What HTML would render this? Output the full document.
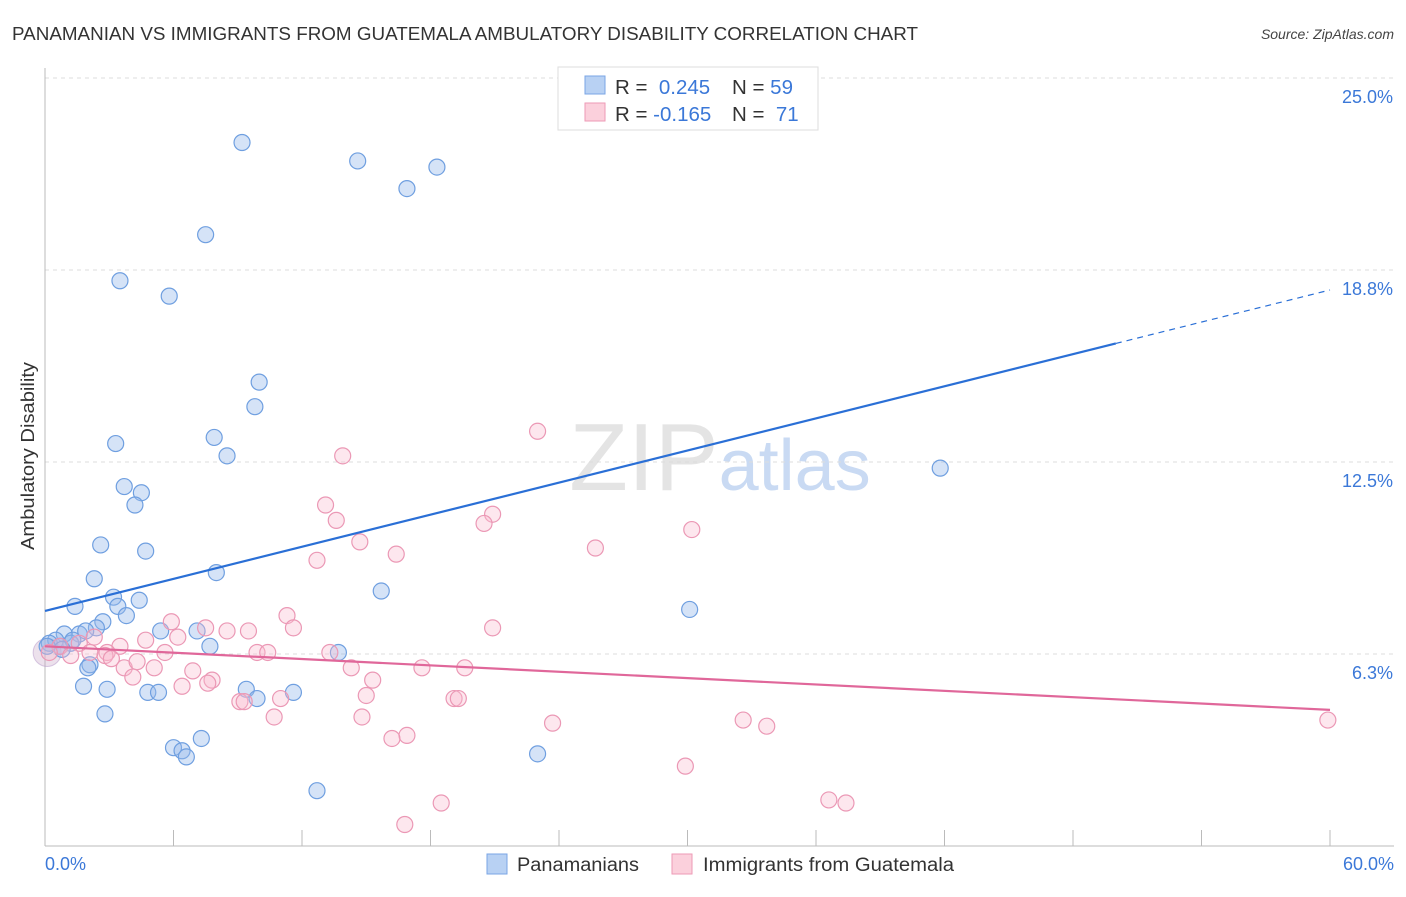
<!DOCTYPE html>
<html><head><meta charset="utf-8"><style>
body{margin:0;background:#fff;font-family:"Liberation Sans",sans-serif;}
svg text{font-family:"Liberation Sans",sans-serif;}
</style></head><body>
<svg id="chart" width="1406" height="892" xmlns="http://www.w3.org/2000/svg">
<text x="12" y="40" font-size="18" fill="#333" textLength="906" lengthAdjust="spacingAndGlyphs">PANAMANIAN VS IMMIGRANTS FROM GUATEMALA AMBULATORY DISABILITY CORRELATION CHART</text>
<text x="1394" y="39" font-size="14" fill="#444" text-anchor="end" font-style="italic">Source: ZipAtlas.com</text>
<text x="720" y="490" font-size="96" fill="#e4e4e4" text-anchor="middle" font-family="Liberation Serif">ZIP<tspan fill="#c9daf3" font-family="Liberation Sans" font-size="72">atlas</tspan></text>
<g id="grid"></g>
<g id="axes"></g>
<g id="points"></g>
<g id="trends"></g>
<text transform="translate(34,456) rotate(-90)" font-size="18" fill="#333" text-anchor="middle" textLength="188" lengthAdjust="spacingAndGlyphs">Ambulatory Disability</text>
<g>
<rect x="558" y="67" width="260" height="63" fill="#fff" stroke="#ddd"/>
<rect x="585" y="76" width="20" height="18" fill="#b8d1f3" stroke="#7aa5e4"/>
<rect x="585" y="103" width="20" height="18" fill="#fbd0dc" stroke="#ee9ab6"/>
<text x="615" y="94" font-size="20.5" fill="#333">R = <tspan fill="#3b78d8">&#160;0.245</tspan><tspan x="732">N = </tspan><tspan fill="#3b78d8">59</tspan></text>
<text x="615" y="121" font-size="20.5" fill="#333">R = <tspan fill="#3b78d8">-0.165</tspan><tspan x="732">N = </tspan><tspan fill="#3b78d8">&#160;71</tspan></text>
</g>
<g>
<rect x="487" y="854" width="20" height="20" fill="#b8d1f3" stroke="#7aa5e4"/>
<text x="517" y="871" font-size="19" fill="#333" textLength="122" lengthAdjust="spacingAndGlyphs">Panamanians</text>
<rect x="672" y="854" width="20" height="20" fill="#fbd0dc" stroke="#ee9ab6"/>
<text x="703" y="871" font-size="19" fill="#333" textLength="251" lengthAdjust="spacingAndGlyphs">Immigrants from Guatemala</text>
</g>
</svg>
<script>
const xTicks=[0,6,12,18,24,30,36,42,48,54,60];
const yTicks=[6.25,12.5,18.75,25];
const yTickLabels=["6.3%","12.5%","18.8%","25.0%"];
const blueX=[9.2,14.6,18.3,16.9,7.5,3.5,5.8,10.0,9.8,3.3,7.9,8.5,41.8,3.7,4.5,4.2,2.6,4.7,2.3,8.0,15.7,3.2,4.4,3.4,1.4,3.8,30.1,2.7,2.4,5.4,7.1,1.6,0.9,0.5,0.2,1.2,0.7,7.7,13.7,2.1,1.8,2.9,4.8,5.3,9.4,11.6,9.9,2.8,7.3,6.0,6.4,6.6,23.0,12.7,1.3,1.9,0.8,0.1,2.0];
const blueY=[22.9,22.3,22.1,21.4,19.9,18.4,17.9,15.1,14.3,13.1,13.3,12.7,12.3,11.7,11.5,11.1,9.8,9.6,8.7,8.9,8.3,8.1,8.0,7.8,7.8,7.5,7.7,7.3,7.1,7.0,7.0,6.9,6.9,6.7,6.6,6.6,6.5,6.5,6.3,5.9,5.2,5.1,5.0,5.0,5.1,5.0,4.8,4.3,3.5,3.2,3.1,2.9,3.0,1.8,6.7,7.0,6.4,6.5,5.8];
const pinkX=[23.0,13.9,13.1,13.6,20.9,20.5,30.2,14.7,25.7,16.4,12.7,5.9,11.3,7.5,8.5,9.5,11.6,20.9,6.2,4.7,3.5,1.6,2.9,13.3,9.9,10.4,5.6,2.8,0.7,1.2,2.1,3.7,5.1,6.9,4.3,3.1,4.1,14.3,17.6,19.6,15.3,6.4,7.8,7.6,15.0,11.0,9.1,9.3,19.1,19.3,10.7,14.8,23.7,32.6,33.7,16.9,16.2,29.9,18.5,16.8,36.6,37.4,59.9,0.2,2.3];
const pinkY=[13.5,12.7,11.1,10.6,10.8,10.5,10.3,9.9,9.7,9.5,9.3,7.3,7.5,7.1,7.0,7.0,7.1,7.1,6.8,6.7,6.5,6.6,6.3,6.3,6.3,6.3,6.3,6.2,6.5,6.2,6.3,5.8,5.8,5.7,6.0,6.1,5.5,5.8,5.8,5.8,5.4,5.2,5.4,5.3,4.9,4.8,4.7,4.7,4.8,4.8,4.2,4.2,4.0,4.1,3.9,3.6,3.5,2.6,1.4,0.7,1.5,1.4,4.1,6.3,6.8];
const blueTrend=[7.65,18.1];
const pinkTrend=[6.5,4.43];
const X=v=>45+v*(1285/60), Y=v=>78+(25-v)*30.72;
const NS="http://www.w3.org/2000/svg";
function mk(parent,tag,attrs){const e=document.createElementNS(NS,tag);for(const k in attrs)e.setAttribute(k,attrs[k]);document.getElementById(parent).appendChild(e);return e;}
yTicks.forEach((t,i)=>{
 const g=mk('grid','line',{x1:45,x2:1394,y1:Y(t),y2:Y(t),stroke:'#ddd','stroke-dasharray':'4,4'});
 
 
 const l=mk('axes','text',{x:1393,y:Y(t)+25,'font-size':18,fill:'#3b78d8','text-anchor':'end'});
 l.textContent=yTickLabels[i];
 
 
});
const ax=mk('axes','line',{x1:45,x2:1394,y1:846,y2:846,stroke:'#bbb'});


const ay=mk('axes','line',{x1:45,x2:45,y1:68,y2:846,stroke:'#bbb'});


xTicks.forEach(t=>{
 const k=mk('axes','line',{x1:X(t),x2:X(t),y1:830,y2:846,stroke:'#bbb'});
 
 
});
const xl0=mk('axes','text',{x:45,y:870,'font-size':18,fill:'#3b78d8'});xl0.textContent='0.0%';


const xl1=mk('axes','text',{x:1394,y:870,'font-size':18,fill:'#3b78d8','text-anchor':'end'});xl1.textContent='60.0%';


const big=mk('points','circle',{cx:X(0.1),cy:Y(6.3),r:14,fill:'rgba(200,170,200,0.35)',stroke:'rgba(180,150,200,0.5)'});


blueX.forEach((x,i)=>{
 const c=mk('points','circle',{cx:X(x),cy:Y(blueY[i]),r:8,fill:'rgba(150,185,235,0.4)',stroke:'#6f9fe0','stroke-width':1.2});
 
 
});
pinkX.forEach((x,i)=>{
 const c=mk('points','circle',{cx:X(x),cy:Y(pinkY[i]),r:8,fill:'rgba(248,185,205,0.35)',stroke:'#eb98b5','stroke-width':1.2});
 
 
});
const bs=(blueTrend[1]-blueTrend[0])/60, bEnd=50;
const b1=mk('trends','line',{x1:X(0),y1:Y(blueTrend[0]),x2:X(bEnd),y2:Y(blueTrend[0]+bs*bEnd),stroke:'#2a6fd6','stroke-width':2.2});


const b2=mk('trends','line',{x1:X(bEnd),y1:Y(blueTrend[0]+bs*bEnd),x2:X(60),y2:Y(blueTrend[1]),stroke:'#2a6fd6','stroke-width':1.2,'stroke-dasharray':'6,5'});


const p1=mk('trends','line',{x1:X(0),y1:Y(pinkTrend[0]),x2:X(60),y2:Y(pinkTrend[1]),stroke:'#e0679a','stroke-width':2.2});


</script>
</body></html>
